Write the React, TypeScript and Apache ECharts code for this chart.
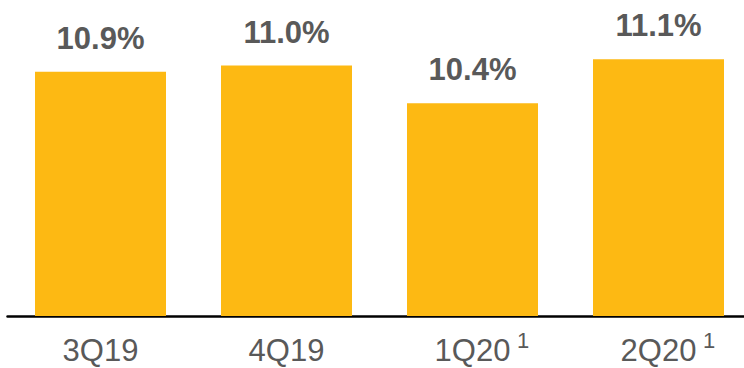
import React, { useEffect, useRef } from "react";
import * as echarts from "echarts";

const categories = ["3Q19", "4Q19", "1Q20", "2Q20"];
const footnotes = ["", "", "1", "1"];
const values = [10.9, 11.0, 10.4, 11.1];
const valueLabels = ["10.9%", "11.0%", "10.4%", "11.1%"];

const FONT = "'Liberation Sans', Arial, sans-serif";
const GREY = "#595959";

export default function App() {
  const ref = useRef<HTMLDivElement>(null);
  useEffect(() => {
    if (!ref.current) return;
    const chart = echarts.init(ref.current, null, { renderer: "svg" });
    chart.setOption({
      animation: false,
      grid: {
        left: 7.5,
        width: 744,
        top: 3,
        bottom: 52,
        containLabel: false,
        outerBoundsMode: "none",
      },
      xAxis: [
        {
          type: "category",
          data: categories,
          axisLine: { show: true, lineStyle: { color: "#000", width: 2.5 } },
          axisTick: { show: false },
          axisLabel: {
            margin: 19,
            interval: 0,
            fontSize: 31,
            lineHeight: 31,
            color: GREY,
            fontFamily: FONT,
          },
        },
        {
          type: "category",
          data: categories,
          position: "bottom",
          axisLine: { show: false },
          axisTick: { show: false },
          splitLine: { show: false },
          axisLabel: {
            margin: 13,
            interval: 0,
            formatter: (_v: string, i: number) => (footnotes[i] ? `{s|${footnotes[i]}}` : ""),
            rich: {
              s: { fontSize: 22, color: GREY, fontFamily: FONT, padding: [0, 0, 0, 101] },
            },
          },
        },
      ],
      yAxis: {
        type: "value",
        min: 7,
        max: 12,
        show: false,
        splitLine: { show: false },
      },
      series: [
        {
          type: "bar",
          data: values,
          barWidth: 131,
          itemStyle: { color: "#FDB913" },
          label: {
            show: true,
            position: "top",
            distance: 18,
            formatter: (p: any) => valueLabels[p.dataIndex],
            fontSize: 31,
            fontWeight: "bold",
            color: GREY,
            fontFamily: FONT,
          },
        },
      ],
    });
    return () => chart.dispose();
  }, []);
  return (
    <div
      ref={ref}
      style={{ position: "absolute", left: 0, top: 0, width: 744, height: 368, background: "#fff" }}
    />
  );
}
